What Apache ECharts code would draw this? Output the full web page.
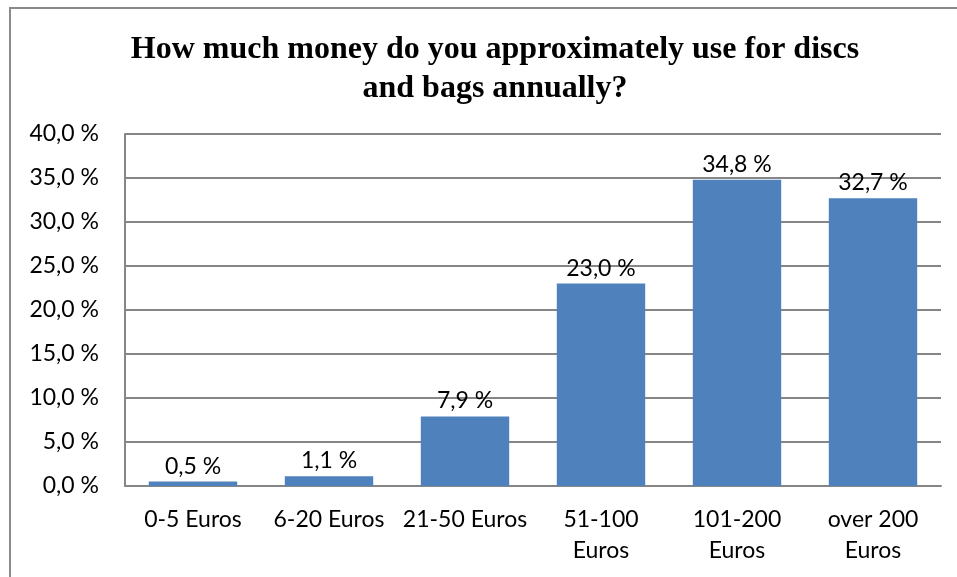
<!DOCTYPE html>
<html>
<head>
<meta charset="utf-8">
<script src="https://cdn.jsdelivr.net/npm/echarts@6/dist/echarts.min.js"></script>
<style>
  html, body { margin: 0; padding: 0; background: #fff; }
  #chart { width: 957px; height: 577px; }
</style>
</head>
<body>
<div id="chart"></div>
<script>
// Annual spending on discs and bags (share of respondents, %)
const categories = ['0-5 Euros', '6-20 Euros', '21-50 Euros', '51-100\nEuros', '101-200\nEuros', 'over 200\nEuros'];
const shares = [0.5, 1.1, 7.9, 23.0, 34.8, 32.7];
const titleLines = ['How much money do you approximately use for discs', 'and bags annually?'];

const fmt = v => v.toFixed(1).replace('.', ',') + ' %';
const labelFont = 'Lato, "Open Sans", sans-serif';

const chart = echarts.init(document.getElementById('chart'));
chart.setOption({
  animation: false,
  backgroundColor: '#fff',
  title: {
    text: titleLines.join('\n'),
    left: 490,
    textAlign: 'center',
    top: 25,
    textStyle: {
      fontFamily: '"Liberation Serif", "DejaVu Serif", serif',
      fontWeight: 'bold',
      fontSize: 32,
      lineHeight: 39,
      color: '#000'
    }
  },
  graphic: [{
    type: 'rect',
    shape: { x: 10, y: 8, width: 960, height: 600 },
    style: { fill: 'none', stroke: '#8a8a8a', lineWidth: 2 },
    silent: true,
    z: -1
  }],
  grid: { left: 125, right: 16, top: 134, bottom: 91, containLabel: false },
  xAxis: {
    type: 'category',
    data: categories,
    axisLine: { show: true, lineStyle: { color: '#868686', width: 2 } },
    axisTick: { show: false },
    axisLabel: {
      interval: 0,
      margin: 18,
      fontFamily: labelFont,
      fontSize: 23,
      lineHeight: 31,
      color: '#000'
    }
  },
  yAxis: {
    type: 'value',
    min: 0,
    max: 40,
    interval: 5,
    axisLine: { show: true, lineStyle: { color: '#868686', width: 2 } },
    axisTick: { show: false },
    splitLine: { show: true, lineStyle: { color: '#868686', width: 2 } },
    axisLabel: {
      margin: 26,
      fontFamily: labelFont,
      fontSize: 23,
      color: '#000',
      formatter: fmt
    }
  },
  series: [{
    type: 'bar',
    data: shares,
    barCategoryGap: '35%',
    itemStyle: { color: '#4F81BD' },
    label: {
      show: true,
      position: 'top',
      distance: 4,
      fontFamily: labelFont,
      fontSize: 23,
      color: '#000',
      formatter: p => fmt(p.value)
    }
  }]
});
</script>
</body>
</html>
